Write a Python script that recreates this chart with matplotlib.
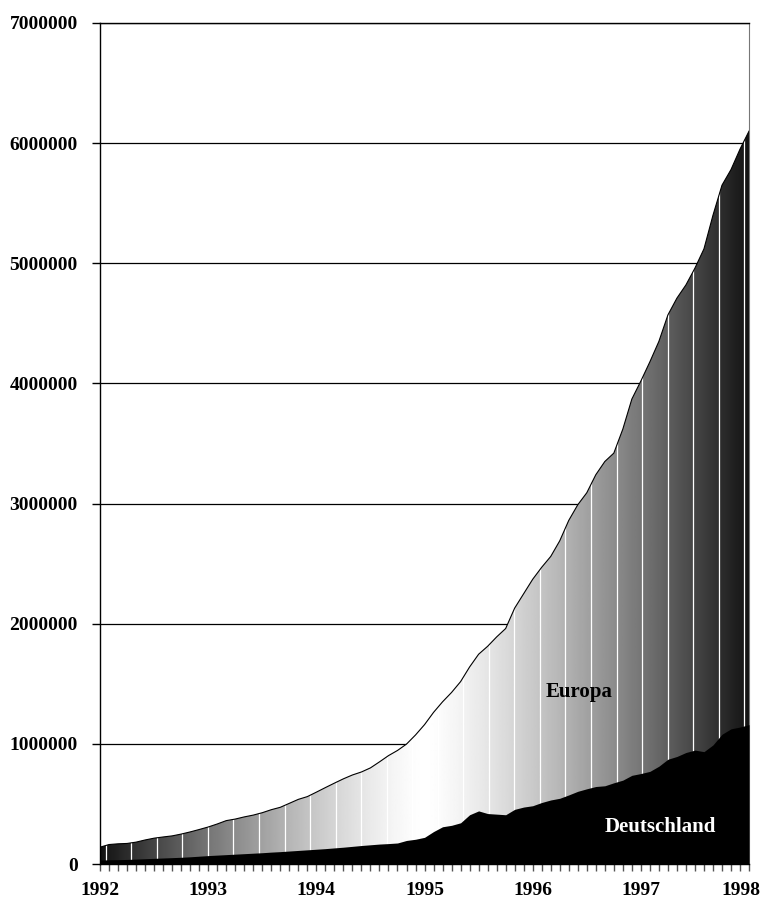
import matplotlib.pyplot as plt
import numpy as np
from matplotlib.patches import Polygon
from matplotlib.ticker import MultipleLocator, FuncFormatter
from matplotlib.transforms import ScaledTranslation

plt.rcParams['font.family'] = ['Liberation Serif', 'DejaVu Serif']
plt.rcParams['font.weight'] = 'bold'

# monthly values, Jan 1992 .. Jan 1998
europa = [140000, 162000, 168000, 171000, 182000, 200000, 215000, 225000, 234000,
          249000, 267000, 287000, 308000, 333000, 361000, 374000, 392000, 407000,
          427000, 452000, 472000, 505000, 538000, 561000, 598000, 636000, 673000,
          709000, 741000, 766000, 800000, 850000, 902000, 945000, 998000, 1074000,
          1160000, 1262000, 1350000, 1428000, 1518000, 1640000, 1746000, 1812000,
          1890000, 1960000, 2130000, 2250000, 2370000, 2470000, 2560000, 2690000,
          2860000, 2990000, 3090000, 3240000, 3350000, 3420000, 3620000, 3870000,
          4020000, 4180000, 4350000, 4570000, 4710000, 4820000, 4960000, 5120000,
          5400000, 5650000, 5780000, 5950000, 6100000]
deutschland = [33000, 35000, 36000, 38000, 41000, 44000, 47000, 50000, 53000,
               56000, 60000, 65000, 70000, 74000, 78000, 82000, 86000, 90000,
               94000, 99000, 103000, 108000, 113000, 118000, 123000, 128000, 134000,
               140000, 147000, 154000, 160000, 166000, 170000, 175000, 196000, 206000,
               222000, 270000, 310000, 322000, 343000, 410000, 442000, 420000,
               415000, 410000, 455000, 474000, 485000, 512000, 533000, 547000,
               575000, 605000, 626000, 645000, 651000, 676000, 698000, 738000,
               753000, 771000, 814000, 872000, 895000, 928000, 948000, 935000,
               991000, 1080000, 1125000, 1140000, 1160000]
years = [1992, 1993, 1994, 1995, 1996, 1997, 1998]

x = 1992 + np.arange(len(europa)) / 12.0

fig = plt.figure(figsize=(7.63, 9.05), dpi=100)
ax = fig.add_axes([0.1311, 0.0453, 0.8506, 0.9293])
ax.set_xlim(1992, 1998)
ax.set_ylim(0, 7000000)

# gridlines behind everything
for v in range(1000000, 7000001, 1000000):
    ax.axhline(v, color='black', lw=0.9, zorder=0)

# gradient fill for Europa: dark at edges, white in the middle
verts = [(x[0], 0)] + list(zip(x, europa)) + [(x[-1], 0)]
poly = Polygon(verts, closed=True, facecolor='none', edgecolor='none')
ax.add_patch(poly)
gx = np.linspace(1992, 1998, 600)
t = np.abs(gx - 1995) / 3.0
gray = 1 - 0.93 * t ** 1.35
img = np.tile(gray, (2, 1))
im = ax.imshow(img, extent=[1992, 1998, 0, 7000000], aspect='auto', cmap='gray',
               vmin=0, vmax=1, origin='lower', zorder=1, interpolation='bilinear')
im.set_clip_path(poly)

# white stripes in the gradient
stripes = 1992 + (5.7 + 25.5 * np.arange(26)) / 108.0
vl = ax.vlines(stripes, 0, 7000000, colors='white', lw=0.9, zorder=2)
vl.set_clip_path(poly)

ax.plot(x, europa, color='black', lw=0.8, zorder=3)
ax.fill_between(x, 0, deutschland, color='black', lw=0, zorder=4)

ax.text(1996.43, 1430000, 'Europa', ha='center', va='center', fontsize=15,
        fontweight='bold', color='black', zorder=5)
ax.text(1997.18, 310000, 'Deutschland', ha='center', va='center', fontsize=15,
        fontweight='bold', color='white', zorder=5)

ax.yaxis.set_major_locator(MultipleLocator(1000000))
ax.yaxis.set_major_formatter(FuncFormatter(lambda v, p: '%d' % v))
ax.set_xticks(years)
ax.set_xticklabels([str(y) for y in years])
ax.xaxis.set_minor_locator(MultipleLocator(1 / 12.0))
ax.tick_params(axis='y', direction='out', length=6, width=1, labelsize=14, pad=10)
ax.tick_params(axis='x', which='major', direction='out', length=5, width=1,
               labelsize=14, pad=8, color='#555555')
ax.tick_params(axis='x', which='minor', direction='out', length=5, width=1,
               color='#555555')

# last year label sits a bit to the left so it stays on the canvas
last = ax.get_xticklabels()[-1]
last.set_transform(last.get_transform() + ScaledTranslation(-8 / 100, 0, fig.dpi_scale_trans))

for s in ['left', 'bottom', 'top']:
    ax.spines[s].set_color('black')
    ax.spines[s].set_linewidth(1)
ax.spines['right'].set_color('#777777')
ax.spines['right'].set_linewidth(0.8)

fig.savefig('out.png', dpi=100)
